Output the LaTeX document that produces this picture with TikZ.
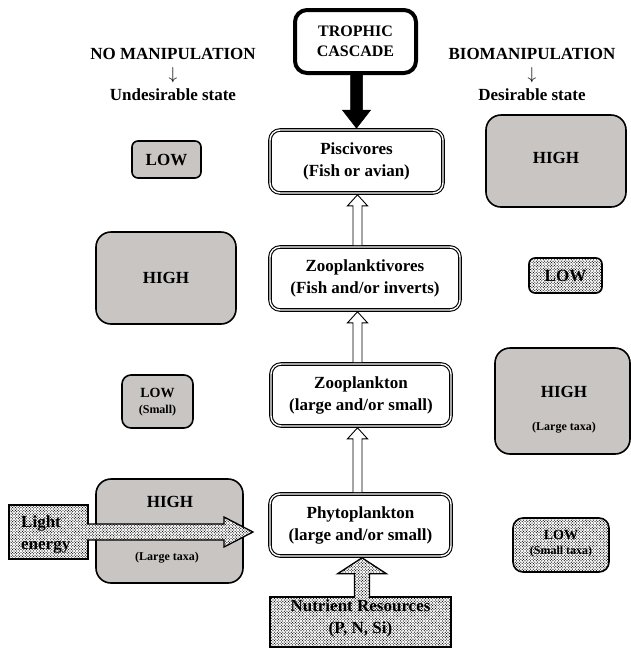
\documentclass[tikz,border=0pt]{standalone}
\usepackage{fontspec}
\setmainfont{Liberation Serif}
\usetikzlibrary{calc,patterns}
\definecolor{boxgray}{RGB}{200,197,195}
\pgfdeclarepatternformonly{fine dots}{\pgfqpoint{-1pt}{-1pt}}{\pgfqpoint{2.2pt}{2.2pt}}{\pgfqpoint{2.8pt}{2.8pt}}{%
  \pgfpathcircle{\pgfqpoint{0pt}{0pt}}{0.6pt}%
  \pgfpathcircle{\pgfqpoint{1.4pt}{1.4pt}}{0.6pt}%
  \pgfusepath{fill}}
\tikzset{
  big/.style={font=\bfseries\fontsize{17}{22}\selectfont},
  mid/.style={font=\bfseries\fontsize{14}{16}\selectfont},
  small/.style={font=\bfseries\fontsize{12}{14}\selectfont},
  hdr/.style={align=center, inner sep=0pt, font=\bfseries\fontsize{17}{20.5}\selectfont},
  lvl/.style={draw, double, double distance=1.4pt, line width=1.1pt, rounded corners=10pt,
    fill=white, align=center, inner sep=0pt, outer sep=1.8pt, big},
  trophbox/.style={draw, line width=4pt, rounded corners=12pt, fill=white, align=center,
    inner sep=0pt, font=\bfseries\fontsize{16}{19.5}\selectfont},
  graybox/.style={draw, line width=1.6pt, fill=boxgray, inner sep=0pt, align=center},
  dotfill/.style={preaction={fill=white}, pattern=fine dots},
  dotbox/.style={draw, line width=1.6pt, dotfill, inner sep=0pt, align=center},
  txt/.style={inner sep=0pt, align=center},
  outline/.style={draw, line width=1.3pt, line join=miter},
  thin outline/.style={draw, line width=0.9pt, line join=miter},
}
% #1 fill style, #2 draw style, #3 tail, #4 tip, #5 shaft half, #6 head half, #7 head length
\newcommand\arrUp[7]{%
  \path[#1] let \p1=(#3), \p2=(#4) in
    ({\x2-#5pt},\y1) -- ({\x2-#5pt},{\y2-#7pt}) -- ({\x2-#6pt},{\y2-#7pt}) -- (\x2,\y2)
    -- ({\x2+#6pt},{\y2-#7pt}) -- ({\x2+#5pt},{\y2-#7pt}) -- ({\x2+#5pt},\y1) -- cycle;
  \path[#2] let \p1=(#3), \p2=(#4) in
    ({\x2-#5pt},\y1) -- ({\x2-#5pt},{\y2-#7pt}) -- ({\x2-#6pt},{\y2-#7pt}) -- (\x2,\y2)
    -- ({\x2+#6pt},{\y2-#7pt}) -- ({\x2+#5pt},{\y2-#7pt}) -- ({\x2+#5pt},\y1);}
\newcommand\arrDown[7]{%
  \path[#1] let \p1=(#3), \p2=(#4) in
    ({\x2-#5pt},\y1) -- ({\x2-#5pt},{\y2+#7pt}) -- ({\x2-#6pt},{\y2+#7pt}) -- (\x2,\y2)
    -- ({\x2+#6pt},{\y2+#7pt}) -- ({\x2+#5pt},{\y2+#7pt}) -- ({\x2+#5pt},\y1) -- cycle;
  \path[#2] let \p1=(#3), \p2=(#4) in
    ({\x2-#5pt},\y1) -- ({\x2-#5pt},{\y2+#7pt}) -- ({\x2-#6pt},{\y2+#7pt}) -- (\x2,\y2)
    -- ({\x2+#6pt},{\y2+#7pt}) -- ({\x2+#5pt},{\y2+#7pt}) -- ({\x2+#5pt},\y1);}
\newcommand\arrRight[7]{%
  \path[#1] let \p1=(#3), \p2=(#4) in
    (\x1,{\y2+#5pt}) -- ({\x2-#7pt},{\y2+#5pt}) -- ({\x2-#7pt},{\y2+#6pt}) -- (\x2,\y2)
    -- ({\x2-#7pt},{\y2-#6pt}) -- ({\x2-#7pt},{\y2-#5pt}) -- (\x1,{\y2-#5pt}) -- cycle;
  \path[#2] let \p1=(#3), \p2=(#4) in
    (\x1,{\y2+#5pt}) -- ({\x2-#7pt},{\y2+#5pt}) -- ({\x2-#7pt},{\y2+#6pt}) -- (\x2,\y2)
    -- ({\x2-#7pt},{\y2-#6pt}) -- ({\x2-#7pt},{\y2-#5pt}) -- (\x1,{\y2-#5pt});}

\begin{document}
\begin{tikzpicture}[x=1pt,y=-1pt]
\useasboundingbox (0,0) rectangle (631,649);

% headers
\node[hdr] (hdrL) at (173,74) {NO MANIPULATION\\$\downarrow$\\Undesirable state};
\node[hdr] (hdrR) at (532,74) {BIOMANIPULATION\\$\downarrow$\\Desirable state};

% trophic cascade
\node[trophbox, minimum width=121pt, minimum height=63pt] (troph) at (355.5,41.5) {TROPHIC\\CASCADE};

% central levels
\node[lvl, minimum width=173pt, minimum height=63pt] (pisc) at (356.5,161.5) {Piscivores\\(Fish or avian)};
\node[lvl, minimum width=190pt, minimum height=63pt] (zpv) at (365,278.5) {Zooplanktivores\\(Fish and/or inverts)};
\node[lvl, minimum width=180pt, minimum height=62pt] (zpl) at (361,395) {Zooplankton\\(large and/or small)};
\node[lvl, minimum width=181pt, minimum height=62pt] (phy) at (360.5,525) {Phytoplankton\\(large and/or small)};

\coordinate (axis) at (357.5,300);
\coordinate (nutaxis) at (362,600);
\coordinate (lighttip) at (253,532);

% black arrow
\arrDown{fill=black}{draw=black, line width=0.5pt}{troph.south}{pisc.north}{6}{14}{18}
% hollow arrows
\arrUp{fill=white}{thin outline}{zpv.north -| axis}{pisc.south -| axis}{4.5}{10}{11}
\arrUp{fill=white}{thin outline}{zpl.north -| axis}{zpv.south -| axis}{4.5}{10}{11}
\arrUp{fill=white}{thin outline}{phy.north -| axis}{zpl.south -| axis}{4.5}{10}{11}

% left column
\node[graybox, rounded corners=6pt, minimum width=69pt, minimum height=37pt, big] (lowA) at (166.5,159.5) {LOW};
\node[graybox, rounded corners=15pt, minimum width=140pt, minimum height=92pt, big] (highA) at (166,278) {HIGH};
\node[graybox, rounded corners=9pt, minimum width=71pt, minimum height=53pt] (lowB) at (157.5,401.5) {};
\node[txt, mid] (lowBt) at (157.5,393) {LOW};
\node[txt, small] (lowBs) at (157.5,411) {(Small)};
\node[graybox, rounded corners=15pt, minimum width=147pt, minimum height=104pt] (highB) at (169.5,531) {};
\node[txt, big] (highBt) at (170,502) {HIGH};
\node[txt, small] (highBs) at (167,558) {(Large taxa)};

% right column
\node[graybox, rounded corners=15pt, minimum width=140pt, minimum height=92pt] (highC) at (556,161) {};
\node[txt, big] (highCt) at (556,158) {HIGH};
\node[dotbox, rounded corners=6pt, minimum width=73pt, minimum height=35pt, big] (lowC) at (565.5,275.5) {LOW};
\node[graybox, rounded corners=15pt, minimum width=135pt, minimum height=106pt] (highD) at (562.5,401) {};
\node[txt, big] (highDt) at (564,392) {HIGH};
\node[txt, small] (highDs) at (564,428) {(Large taxa)};
\node[dotbox, rounded corners=10pt, minimum width=96pt, minimum height=54pt] (lowD) at (561,545) {};
\node[txt, mid] (lowDt) at (561,535) {LOW};
\node[txt, small] (lowDs) at (561,552) {(Small taxa)};

% light energy
\node[dotbox, minimum width=79pt, minimum height=54pt] (light) at (48.5,532) {};
\arrRight{dotfill}{outline}{$(light.east)+(-2,0)$}{lighttip}{8}{15}{29}
\node[txt, big, anchor=west, align=left] (lightt) at (21,534) {Light\\energy};

% nutrients
\node[dotbox, minimum width=181pt, minimum height=50pt] (nut) at (360.5,622) {};
\arrUp{dotfill}{outline}{$(nut.north -| nutaxis)+(0,2)$}{phy.south -| nutaxis}{7.5}{24.5}{16}
\node[txt, big] (nutt) at (360.5,618.5) {Nutrient Resources\\(P, N, Si)};
\end{tikzpicture}
\end{document}
